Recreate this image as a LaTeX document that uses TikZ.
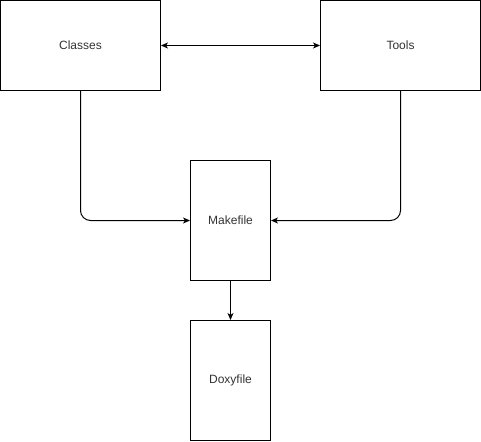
\documentclass[tikz,border=0pt]{standalone}
\usepackage{fontspec}
\setmainfont{Liberation Sans}
\usetikzlibrary{arrows.meta}
\begin{document}
\begin{tikzpicture}[x=1pt,y=-1pt,
  box/.style={draw=black,line width=1pt,fill=white,inner sep=0pt,font=\fontsize{12}{14}\selectfont,text=black!80},
  conn/.style={draw=black,line width=1pt,-{Stealth[length=7pt,width=6pt,inset=2pt]}},
  conn2/.style={draw=black,line width=1pt,{Stealth[length=7pt,width=6pt,inset=2pt]}-{Stealth[length=7pt,width=6pt,inset=2pt]}}]
\useasboundingbox (0,0) rectangle (481,441);
\node[box,minimum width=160pt,minimum height=90pt] (classes) at (80.5,45.5) {Classes};
\node[box,minimum width=160pt,minimum height=90pt] (tools) at (400.5,45.5) {Tools};
\node[box,minimum width=80pt,minimum height=120pt] (make) at (230.5,220.5) {Makefile};
\node[box,minimum width=80pt,minimum height=120pt] (doxy) at (230.5,380.5) {Doxyfile};
\draw[conn2] (classes.east) -- (tools.west);
\draw[conn,rounded corners=10pt] (classes.south) |- (make.west);
\draw[conn,rounded corners=10pt] (tools.south) |- (make.east);
\draw[conn] (make.south) -- (doxy.north);
\end{tikzpicture}
\end{document}
